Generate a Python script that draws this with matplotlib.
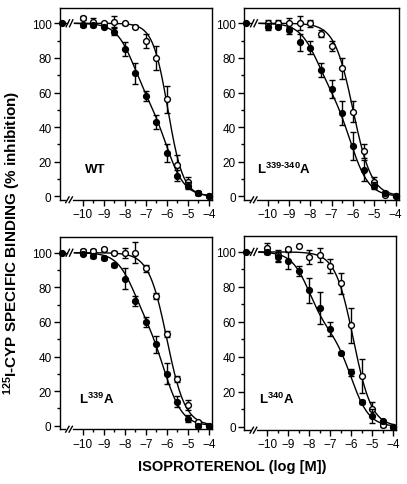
import numpy as np
import matplotlib
matplotlib.use("Agg")
import matplotlib.pyplot as plt

plt.rcParams['font.family'] = ['Liberation Sans', 'DejaVu Sans']
plt.rcParams['mathtext.fontset'] = 'custom'
plt.rcParams['mathtext.bf'] = 'Liberation Sans:bold'
plt.rcParams['mathtext.rm'] = 'Liberation Sans'

# concentrations (log M); -11 is the no-drug control drawn past the axis break
log_conc = [-10, -9.5, -9, -8.5, -8, -7.5, -7, -6.5, -6, -5.5, -5, -4.5, -4]
ctrl_x = -11
ctrl_y = 100

panel_names = ['WT', 'L$\\mathbf{^{339‐340}}$A', 'L$\\mathbf{^{339}}$A', 'L$\\mathbf{^{340}}$A']
label_x = [-9.9, -10.5, -10.2, -10.4]

# filled circles
wt_filled = [99, 99, 98, 95, 85, 71, 58, 43, 25, 12, 6, 2, 0]
wt_filled_err = [1, 1, 1, 2, 4, 6, 3, 4, 5, 3, 2, 1, 0]
l339340_filled = [98, 98, 96, 89, 86, 73, 62, 48, 29, 15, 6, 2, 0]
l339340_filled_err = [2, 1, 2, 5, 4, 4, 5, 7, 8, 6, 2, 1, 0]
l339_filled = [99.5, 98, 97, 93, 85, 72, 60, 47, 30, 14, 4, 0, 0]
l339_filled_err = [1, 1, 1, 1, 6, 3, 3, 5, 6, 3, 2, 1, 0]
l340_filled = [100, 97, 95, 89, 78, 68, 56, 42, 31, 14, 6, 3, 0]
l340_filled_err = [1, 3, 5, 3, 7, 9, 4, 1, 2, 1, 4, 1, 0]

# open circles
wt_open = [103, 101, 100, 101, 100, 98, 90, 80, 56, 18, 8, 2, 0]
wt_open_err = [1, 2, 1, 3, 1, 1, 4, 7, 8, 6, 3, 1, 0]
l339340_open = [100, 100, 100, 100, 100, 94, 87, 74, 49, 26, 8, 1, 0]
l339340_open_err = [2, 2, 3, 4, 2, 2, 3, 6, 6, 4, 3, 1, 0]
l339_open = [101, 101, 102, 100, 100, 100, 91, 75, 53, 27, 12, 2, 0]
l339_open_err = [1, 1, 1, 1, 3, 6, 2, 2, 2, 2, 3, 1, 0]
l340_open = [102, 98, 101.5, 103.5, 97, 98, 92, 82, 58, 29, 10, 1, 0]
l340_open_err = [3, 3, 1, 0, 4, 4, 4, 6, 10, 10, 4, 1, 0]

filled = [wt_filled, l339340_filled, l339_filled, l340_filled]
filled_err = [wt_filled_err, l339340_filled_err, l339_filled_err, l340_filled_err]
opened = [wt_open, l339340_open, l339_open, l340_open]
opened_err = [wt_open_err, l339340_open_err, l339_open_err, l340_open_err]

# fitted curves: two-site fit for filled (fraction high, logIC50 high, logIC50 low),
# one-site fit for open (logIC50, Hill slope)
fit_two_site = [(0.45, -7.6, -6.0), (0.40, -7.7, -6.1), (0.40, -7.6, -6.1), (0.45, -8.0, -6.0)]
fit_one_site = [(-5.95, 1.2), (-6.0, 1.0), (-6.0, 1.0), (-5.9, 1.0)]

axes_pos = [[0.147, 0.586, 0.374, 0.396],
            [0.600, 0.586, 0.380, 0.396],
            [0.147, 0.113, 0.374, 0.396],
            [0.600, 0.111, 0.374, 0.400]]

fig = plt.figure(figsize=(4.07, 4.85), dpi=100)

xs = np.linspace(-10.4, -4, 300)

for i in range(4):
    ax = fig.add_axes(axes_pos[i])
    f, h, l = fit_two_site[i]
    c50, nh = fit_one_site[i]
    y_two = 100 * (f / (1 + 10 ** (xs - h)) + (1 - f) / (1 + 10 ** (xs - l)))
    y_one = 100 / (1 + 10 ** ((xs - c50) * nh))
    ax.plot(xs, y_two, color='black', lw=1.0, zorder=2)
    ax.plot(xs, y_one, color='black', lw=1.0, zorder=2)

    ax.errorbar(log_conc, opened[i], yerr=opened_err[i], fmt='o', ms=4.2,
                mfc='white', mec='black', mew=1.0, ecolor='black', elinewidth=1.0,
                capsize=2, capthick=1.0, zorder=4, clip_on=False)
    ax.errorbar(log_conc, filled[i], yerr=filled_err[i], fmt='o', ms=4.2,
                mfc='black', mec='black', ecolor='black', elinewidth=1.0,
                capsize=2, capthick=1.0, zorder=5, clip_on=False)

    # control point and broken line to the break
    ax.plot([ctrl_x, -10.78], [ctrl_y, ctrl_y], color='black', lw=1.0, clip_on=False)
    ax.plot([ctrl_x], [ctrl_y], 'o', color='black', ms=4.2, clip_on=False, zorder=6)
    for bx in [-10.72, -10.56]:
        ax.plot([bx - 0.08, bx + 0.08], [ctrl_y - 2, ctrl_y + 2], color='black', lw=1.0)

    # break marks on x axis
    tr = ax.get_xaxis_transform()
    ax.plot([-10.74, -10.58], [-0.0, 0.0], color='white', lw=2, transform=tr, clip_on=False, zorder=7)
    for bx in [-10.74, -10.58]:
        ax.plot([bx - 0.08, bx + 0.08], [-0.015, 0.015], color='black', lw=1.0,
                transform=tr, clip_on=False, zorder=8)

    ax.set_xlim(-11.1, -3.85)
    ax.set_ylim(-2, 109)
    ax.set_xticks([-10, -9, -8, -7, -6, -5, -4])
    ax.set_xticks([-9.5, -8.5, -7.5, -6.5, -5.5, -4.5], minor=True)
    ax.set_yticks([0, 20, 40, 60, 80, 100])
    ax.set_yticks([10, 30, 50, 70, 90], minor=True)
    ax.tick_params(which='major', direction='out', length=4, width=1, labelsize=8.5, pad=2)
    ax.tick_params(which='minor', direction='out', length=2.5, width=1)
    for s in ax.spines.values():
        s.set_linewidth(1.0)

    ax.text(label_x[i], 16, panel_names[i], fontsize=9.5, fontweight='bold', ha='left', va='center')

fig.text(0.57, 0.037, 'ISOPROTERENOL (log [M])', fontsize=10.5, fontweight='bold',
         ha='center', va='center')
fig.text(0.03, 0.50, '$\\mathbf{^{125}}$I-CYP SPECIFIC BINDING (% inhibition)', fontsize=11,
         fontweight='bold', ha='center', va='center', rotation=90)

fig.savefig('out.png', dpi=100)
